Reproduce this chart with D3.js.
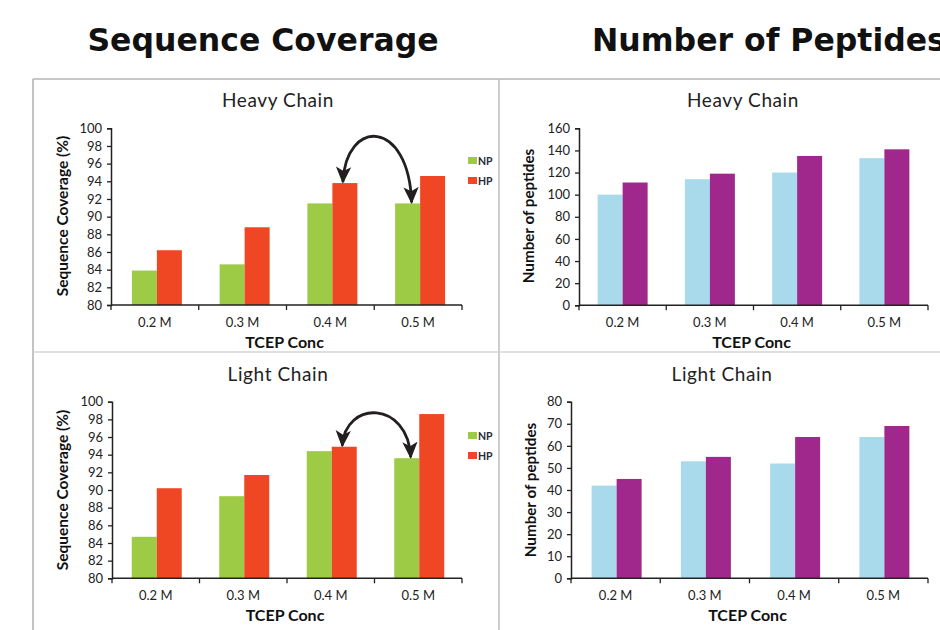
<!DOCTYPE html>
<html>
<head>
<meta charset="utf-8">
<script src="https://cdn.jsdelivr.net/npm/d3@7"></script>
<style>
  html, body { margin: 0; padding: 0; background: #fff; }
  svg { display: block; }
</style>
</head>
<body>
<svg id="chart" width="940" height="630"></svg>
<script>
// TCEP concentration categories shared by all four charts
const categories = ["0.2 M", "0.3 M", "0.4 M", "0.5 M"];

// Sequence coverage (%) – no precipitation (NP) vs. heat precipitation (HP)
const heavyCoverageNP = [83.9, 84.6, 91.5, 91.5];
const heavyCoverageHP = [86.2, 88.8, 93.8, 94.6];
const lightCoverageNP = [84.7, 89.3, 94.4, 93.6];
const lightCoverageHP = [90.2, 91.7, 94.9, 98.6];

// Number of peptides identified
const heavyPeptidesA = [100, 114, 120, 133];
const heavyPeptidesB = [111, 119, 135, 141];
const lightPeptidesA = [42, 53, 52, 64];
const lightPeptidesB = [45, 55, 64, 69];

// Axis tick values
const coverageTicks = [80, 82, 84, 86, 88, 90, 92, 94, 96, 98, 100];
const heavyPeptideTicks = [0, 20, 40, 60, 80, 100, 120, 140, 160];
const lightPeptideTicks = [0, 10, 20, 30, 40, 50, 60, 70, 80];

const seriesNames = ["NP", "HP"];

const svg = d3.select("#chart");

// Panel frame lines
const frame = svg.append("g");
frame.append("line").attr("x1", 33).attr("x2", 940).attr("y1", 79).attr("y2", 79)
  .attr("stroke", "#b4b4b4").attr("stroke-width", 1.6);
frame.append("line").attr("x1", 33).attr("x2", 33).attr("y1", 79).attr("y2", 630)
  .attr("stroke", "#b4b4b4").attr("stroke-width", 1.6);
frame.append("line").attr("x1", 499).attr("x2", 499).attr("y1", 79).attr("y2", 630)
  .attr("stroke", "#c0c0c0").attr("stroke-width", 1.6);
frame.append("line").attr("x1", 33).attr("x2", 940).attr("y1", 352).attr("y2", 352)
  .attr("stroke", "#d4d4d4").attr("stroke-width", 1.6);

// Section headings
svg.append("text").attr("x", 263).attr("y", 51).attr("text-anchor", "middle")
  .attr("font-family", "DejaVu Sans").attr("font-weight", "bold").attr("font-size", 31.5)
  .attr("fill", "#111").text("Sequence Coverage");
svg.append("text").attr("x", 592).attr("y", 51).attr("text-anchor", "start")
  .attr("font-family", "DejaVu Sans").attr("font-weight", "bold").attr("font-size", 31.5)
  .attr("fill", "#111").text("Number of Peptides");

// Arrowhead marker for the comparison arcs
const defs = svg.append("defs");
defs.append("marker")
  .attr("id", "arrowhead")
  .attr("viewBox", "0 0 10 10")
  .attr("refX", 9).attr("refY", 5)
  .attr("markerUnits", "userSpaceOnUse")
  .attr("markerWidth", 17).attr("markerHeight", 17)
  .attr("orient", "auto-start-reverse")
  .append("path").attr("d", "M0,0.5 L10,5 L0,9.5 L2.5,5 Z").attr("fill", "#231f20");

const FONT = "Lato, 'Open Sans', sans-serif";

function drawPanel(cfg) {
  const g = svg.append("g");
  const x = d3.scaleBand().domain(categories).range([cfg.x0, cfg.x1]).padding(0);
  const xs = d3.scaleBand().domain(seriesNames)
    .range([(x.bandwidth() - 50) / 2 + cfg.shift, (x.bandwidth() + 50) / 2 + cfg.shift]).padding(0);
  const y = d3.scaleLinear().domain(cfg.domain).range([cfg.yBot, cfg.yTop]);

  // Bars
  const rows = categories.map((c, i) => ({ cat: c, vals: [cfg.a[i], cfg.b[i]] }));
  const grp = g.selectAll("g.cat").data(rows).join("g")
    .attr("transform", d => `translate(${x(d.cat)},0)`);
  grp.selectAll("rect").data(d => d.vals.map((v, j) => ({ s: seriesNames[j], v })))
    .join("rect")
    .attr("x", d => xs(d.s))
    .attr("width", xs.bandwidth())
    .attr("y", d => y(d.v))
    .attr("height", d => y(cfg.domain[0]) - y(d.v))
    .attr("fill", d => d.s === "NP" ? cfg.colors[0] : cfg.colors[1]);

  // Y axis
  const yAxis = g.append("g").attr("transform", `translate(${cfg.x0},0)`)
    .call(d3.axisLeft(y).tickValues(cfg.ticks).tickSize(4).tickPadding(5));
  yAxis.select(".domain").attr("stroke", "#222").attr("stroke-width", 1.5);
  yAxis.selectAll(".tick line").attr("stroke", "#222").attr("stroke-width", 1.3);
  yAxis.selectAll(".tick text").attr("font-family", FONT).attr("font-size", 13)
    .attr("fill", "#222");

  // X axis with ticks on band boundaries
  const xAxis = g.append("g").attr("transform", `translate(0,${cfg.yBot})`);
  xAxis.append("line").attr("x1", cfg.x0).attr("x2", cfg.x1)
    .attr("stroke", "#222").attr("stroke-width", 1.5);
  const bounds = categories.map(c => x(c)).concat([cfg.x1]);
  xAxis.selectAll("line.tk").data(bounds).join("line").attr("class", "tk")
    .attr("x1", d => d).attr("x2", d => d).attr("y1", 0).attr("y2", 5)
    .attr("stroke", "#222").attr("stroke-width", 1.3);
  xAxis.selectAll("text").data(categories).join("text")
    .attr("x", d => x(d) + x.bandwidth() / 2).attr("y", 22)
    .attr("text-anchor", "middle").attr("font-family", FONT).attr("font-size", 13)
    .attr("fill", "#222").text(d => d);

  // Axis titles
  g.append("text").attr("x", (cfg.x0 + cfg.x1) / 2 - 2).attr("y", cfg.yBot + 43)
    .attr("text-anchor", "middle").attr("font-family", FONT).attr("font-weight", "bold")
    .attr("font-size", 16).attr("fill", "#111").text("TCEP Conc");
  g.append("text")
    .attr("transform", `translate(${cfg.yLabelX},${cfg.yLabelY}) rotate(-90)`)
    .attr("text-anchor", "middle").attr("dy", "0.35em")
    .attr("font-family", FONT).attr("font-weight", "bold").attr("font-size", cfg.yLabelSize)
    .attr("fill", "#111").text(cfg.yLabel);

  // Chart title
  g.append("text").attr("x", cfg.titleX).attr("y", cfg.yTop - 21)
    .attr("text-anchor", "middle").attr("font-family", FONT).attr("font-size", 19)
    .attr("letter-spacing", 0.6).attr("fill", "#222").text(cfg.title);

  // Legend
  if (cfg.legend) {
    const lg = g.append("g").attr("transform", `translate(${cfg.x1 + 6},${cfg.legendY})`);
    seriesNames.forEach((s, j) => {
      lg.append("rect").attr("x", 0).attr("y", j * 20).attr("width", 9).attr("height", 7)
        .attr("fill", cfg.colors[j]);
      lg.append("text").attr("x", 10).attr("y", j * 20 + 7.5)
        .attr("font-family", FONT).attr("font-weight", "bold").attr("font-size", 10.5)
        .attr("fill", "#2a2a3a").text(s);
    });
  }

  // Curved double arrow between HP at 0.4 M and NP at 0.5 M
  if (cfg.arc) {
    const sx = x("0.4 M") + xs("HP") + xs.bandwidth() / 2 - 2;
    const sy = y(cfg.b[2]) - 1;
    const ex = x("0.5 M") + xs("NP") + xs.bandwidth() / 2 + 4;
    const ey = y(cfg.a[3]) - 1;
    const c = cfg.arcPeak;
    const p = d3.path();
    p.moveTo(sx, sy);
    p.bezierCurveTo(sx + 3, c, ex - 3, c, ex, ey);
    g.append("path").attr("d", p.toString()).attr("fill", "none")
      .attr("stroke", "#231f20").attr("stroke-width", 2.8)
      .attr("marker-start", "url(#arrowhead)").attr("marker-end", "url(#arrowhead)");
  }
}

const green = "#9dcb45", red = "#ef4723", blue = "#a8daec", purple = "#a0288c";

drawPanel({ x0: 111, x1: 462, yTop: 128.3, yBot: 305, domain: [80, 100], ticks: coverageTicks,
  a: heavyCoverageNP, b: heavyCoverageHP, colors: [green, red], title: "Heavy Chain", titleX: 278,
  yLabel: "Sequence Coverage (%)", yLabelX: 63, yLabelY: 216, yLabelSize: 15.5,
  legend: true, legendY: 157, arc: true, arcPeak: 118, shift: 2 });

drawPanel({ x0: 579, x1: 928, yTop: 128.3, yBot: 305.3, domain: [0, 160], ticks: heavyPeptideTicks,
  a: heavyPeptidesA, b: heavyPeptidesB, colors: [blue, purple], title: "Heavy Chain", titleX: 743,
  yLabel: "Number of peptides", yLabelX: 529, yLabelY: 216, yLabelSize: 15.2,
  legend: false, arc: false, shift: 0 });

drawPanel({ x0: 112, x1: 462, yTop: 401.7, yBot: 578.3, domain: [80, 100], ticks: coverageTicks,
  a: lightCoverageNP, b: lightCoverageHP, colors: [green, red], title: "Light Chain", titleX: 278,
  yLabel: "Sequence Coverage (%)", yLabelX: 63, yLabelY: 490, yLabelSize: 15.5,
  legend: true, legendY: 432, arc: true, arcPeak: 400, shift: 1 });

drawPanel({ x0: 571, x1: 928, yTop: 401.7, yBot: 578.3, domain: [0, 80], ticks: lightPeptideTicks,
  a: lightPeptidesA, b: lightPeptidesB, colors: [blue, purple], title: "Light Chain", titleX: 722,
  yLabel: "Number of peptides", yLabelX: 531, yLabelY: 490, yLabelSize: 15.2,
  legend: false, arc: false, shift: 1 });
</script>
</body>
</html>
